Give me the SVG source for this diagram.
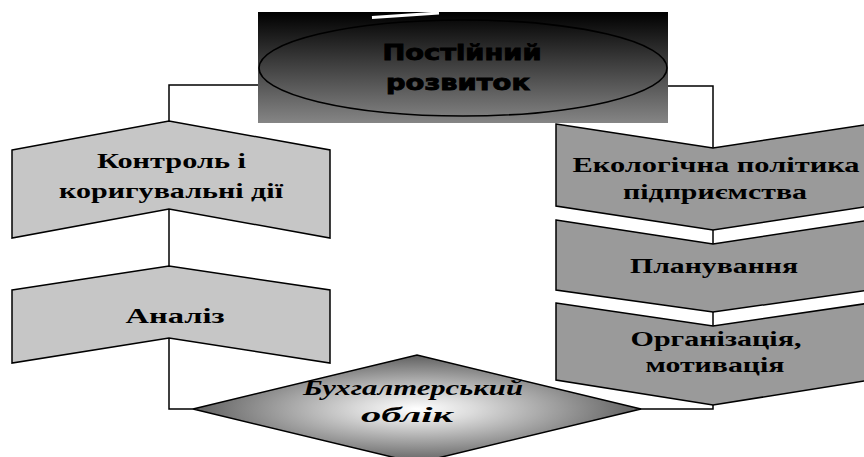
<svg xmlns="http://www.w3.org/2000/svg" width="864" height="457" viewBox="0 0 864 457">
<defs>
<linearGradient id="topGrad" x1="0" y1="0" x2="0" y2="1">
<stop offset="0" stop-color="#000000"/>
<stop offset="1" stop-color="#858585"/>
</linearGradient>
<radialGradient id="diaGrad" cx="0.5" cy="0.5" r="0.5">
<stop offset="0" stop-color="#ffffff"/>
<stop offset="0.25" stop-color="#dcdcdc"/>
<stop offset="1" stop-color="#606060"/>
</radialGradient>
<style>
.conn{fill:none;stroke:#000;stroke-width:1.5}
.light{fill:#c6c6c6;stroke:#000;stroke-width:1.5;stroke-linejoin:miter}
.dark{fill:#9a9a9a;stroke:#000;stroke-width:1.5;stroke-linejoin:miter}
.lbl{font-family:"Liberation Serif","Times New Roman",serif;font-weight:bold;font-size:22px;fill:#000;text-anchor:middle}
.it{font-style:italic}
.blk{font-family:"DejaVu Sans","Liberation Sans",sans-serif;font-weight:900;font-size:21px;fill:#000;stroke:#000;stroke-width:0.9;text-anchor:middle}
</style>
</defs>
<rect width="864" height="457" fill="#fff"/>
<g id="connectors">
<polyline class="conn" points="258,85 169,85 169,121"/>
<polyline class="conn" points="668,86 713,86 713,148"/>
<line class="conn" x1="169" y1="209" x2="169" y2="266"/>
<polyline class="conn" points="169,338 169,409 193,409"/>
<line class="conn" x1="713" y1="230" x2="713" y2="244"/>
<line class="conn" x1="713" y1="312" x2="713" y2="326"/>
<polyline class="conn" points="640,409 713,409 713,405"/>
</g>
<g id="node-postiinyi">
<rect x="258" y="12" width="410" height="111" fill="url(#topGrad)"/>
<line x1="372" y1="17.5" x2="439" y2="13" stroke="#fff" stroke-width="3"/>
<ellipse cx="463" cy="68" rx="204" ry="48" fill="none" stroke="#000" stroke-width="1.6"/>
<text class="blk" x="462" y="60" textLength="159" lengthAdjust="spacingAndGlyphs">Постійний</text>
<text class="blk" x="458" y="90" textLength="144" lengthAdjust="spacingAndGlyphs">розвиток</text>
</g>
<g id="node-kontrol">
<polygon class="light" points="12,150 169,121 330,150 330,238 169,209 12,238"/>
<text class="lbl" x="171.5" y="168" textLength="149" lengthAdjust="spacingAndGlyphs">Контроль і</text>
<text class="lbl" x="171" y="198" textLength="224" lengthAdjust="spacingAndGlyphs">коригувальні дії</text>
</g>
<g id="node-analiz">
<polygon class="light" points="12,290 169,266 330,290 330,363 169,338 12,363"/>
<text class="lbl" x="175" y="323" textLength="99" lengthAdjust="spacingAndGlyphs">Аналіз</text>
</g>
<g id="node-ekolog">
<polygon class="dark" points="556,124 713,148 870,124 870,206 713,230 556,206"/>
<text class="lbl" x="716" y="172" textLength="287" lengthAdjust="spacingAndGlyphs">Екологічна політика</text>
<text class="lbl" x="715" y="199" textLength="184" lengthAdjust="spacingAndGlyphs">підприємства</text>
</g>
<g id="node-planuv">
<polygon class="dark" points="556,220 713,244 870,220 870,290 713,312 556,290"/>
<text class="lbl" x="714" y="273" textLength="168" lengthAdjust="spacingAndGlyphs">Планування</text>
</g>
<g id="node-organiz">
<polygon class="dark" points="556,303 713,326 870,303 870,380 713,405 556,380"/>
<text class="lbl" x="716" y="346" textLength="171" lengthAdjust="spacingAndGlyphs">Організація,</text>
<text class="lbl" x="715" y="372" textLength="139" lengthAdjust="spacingAndGlyphs">мотивація</text>
</g>
<g id="node-buh">
<polygon points="193,409 417,355 641,409 417,463" fill="url(#diaGrad)" stroke="#000" stroke-width="1.5"/>
<text class="lbl it" x="413" y="395" textLength="220" lengthAdjust="spacingAndGlyphs">Бухгалтерський</text>
<text class="lbl it" x="407" y="422" textLength="92" lengthAdjust="spacingAndGlyphs">облік</text>
</g>
</svg>
